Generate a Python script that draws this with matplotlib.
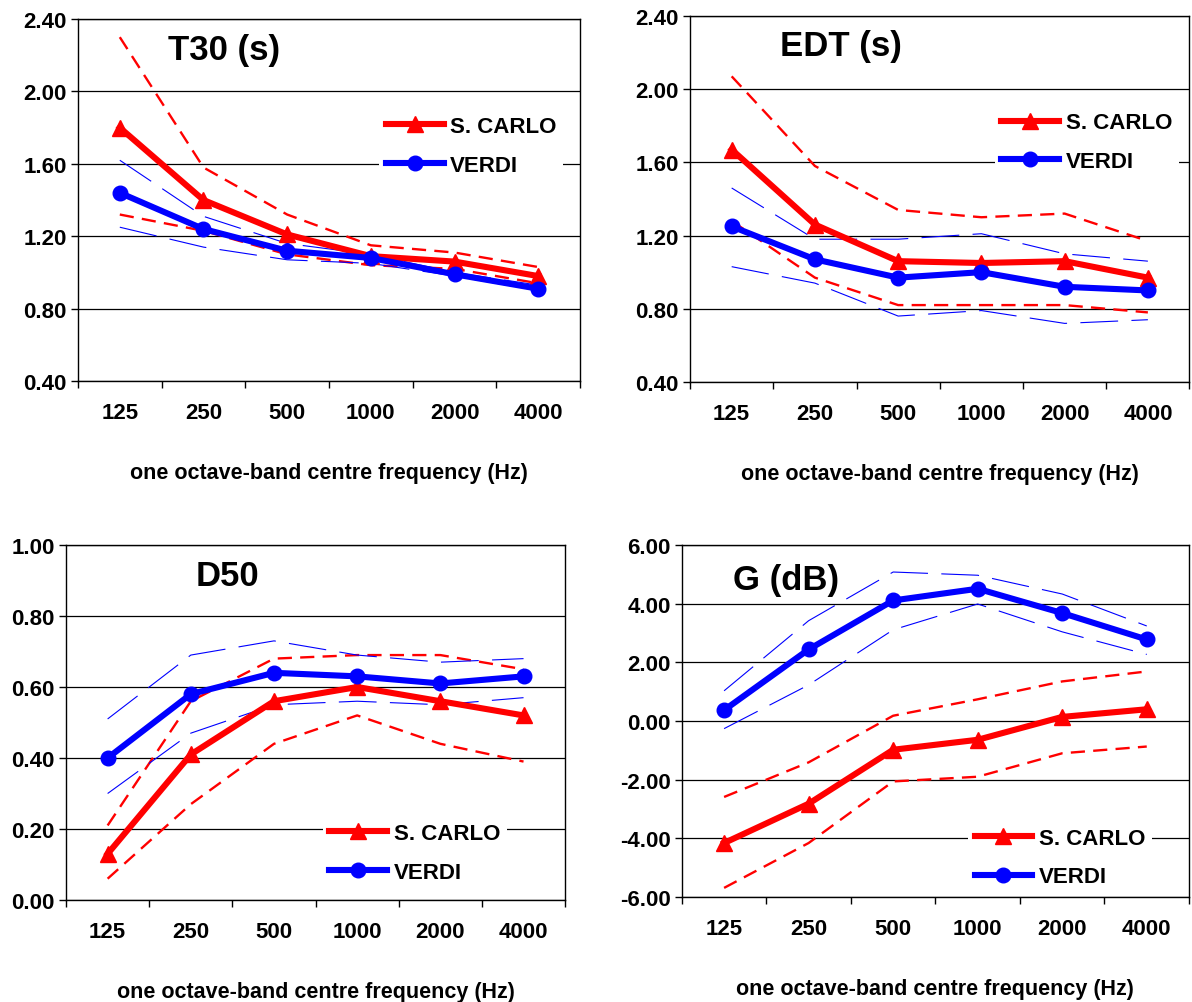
import matplotlib.pyplot as plt
import numpy as np

plt.rcParams['font.family'] = ['Liberation Sans', 'DejaVu Sans']
plt.rcParams['font.weight'] = 'bold'

freqs = ['125', '250', '500', '1000', '2000', '4000']

# T30 (s)
t30_carlo = [1.80, 1.40, 1.21, 1.09, 1.06, 0.98]
t30_carlo_hi = [2.30, 1.58, 1.32, 1.15, 1.11, 1.03]
t30_carlo_lo = [1.32, 1.23, 1.10, 1.04, 1.02, 0.94]
t30_verdi = [1.44, 1.24, 1.12, 1.08, 0.99, 0.91]
t30_verdi_hi = [1.62, 1.31, 1.16, 1.10, 1.00, 0.93]
t30_verdi_lo = [1.25, 1.14, 1.07, 1.05, 0.98, 0.90]

# EDT (s)
edt_carlo = [1.67, 1.26, 1.06, 1.05, 1.06, 0.97]
edt_carlo_hi = [2.07, 1.58, 1.34, 1.30, 1.32, 1.17]
edt_carlo_lo = [1.28, 0.97, 0.82, 0.82, 0.82, 0.78]
edt_verdi = [1.25, 1.07, 0.97, 1.00, 0.92, 0.90]
edt_verdi_hi = [1.46, 1.18, 1.18, 1.21, 1.10, 1.06]
edt_verdi_lo = [1.03, 0.94, 0.76, 0.79, 0.72, 0.74]

# D50
d50_carlo = [0.13, 0.41, 0.56, 0.60, 0.56, 0.52]
d50_carlo_hi = [0.21, 0.56, 0.68, 0.69, 0.69, 0.65]
d50_carlo_lo = [0.06, 0.27, 0.44, 0.52, 0.44, 0.39]
d50_verdi = [0.40, 0.58, 0.64, 0.63, 0.61, 0.63]
d50_verdi_hi = [0.51, 0.69, 0.73, 0.69, 0.67, 0.68]
d50_verdi_lo = [0.30, 0.47, 0.55, 0.56, 0.55, 0.57]

# G (dB)
g_carlo = [-4.16, -2.82, -0.98, -0.64, 0.14, 0.40]
g_carlo_hi = [-2.59, -1.41, 0.18, 0.74, 1.35, 1.69]
g_carlo_lo = [-5.69, -4.16, -2.06, -1.90, -1.10, -0.87]
g_verdi = [0.37, 2.44, 4.11, 4.51, 3.68, 2.78]
g_verdi_hi = [1.03, 3.42, 5.08, 4.97, 4.33, 3.24]
g_verdi_lo = [-0.26, 1.23, 3.11, 3.99, 3.04, 2.27]

RED = '#FF0000'
BLUE = '#0000FF'

fig = plt.figure(figsize=(11.92, 10.03), dpi=100)


def panel(rect, title, title_xy, carlo, carlo_hi, carlo_lo, verdi, verdi_hi, verdi_lo,
          yticks, leg_xy):
    ax = fig.add_axes(rect)
    x = np.arange(len(freqs))
    # spread lines (min / max)
    for yy in (carlo_hi, carlo_lo):
        ax.plot(x, yy, color=RED, lw=1.7, dashes=(6, 3.5), zorder=3)
    for yy in (verdi_hi, verdi_lo):
        ax.plot(x, yy, color=BLUE, lw=0.8, dashes=(34, 12), zorder=3)
    ax.plot(x, carlo, color=RED, lw=4.4, marker='^', ms=12, label='S. CARLO', zorder=4)
    ax.plot(x, verdi, color=BLUE, lw=4.4, marker='o', ms=10.5, label='VERDI', zorder=4)

    ax.set_xlim(-0.5, len(freqs) - 0.5)
    ax.set_ylim(yticks[0], yticks[-1])
    ax.set_yticks(yticks)
    ax.set_yticklabels(['%.2f' % v for v in yticks], fontsize=16, fontweight='bold')
    ax.set_xticks(x)
    ax.set_xticklabels(freqs, fontsize=16, fontweight='bold')
    ax.set_xticks(np.arange(len(freqs) + 1) - 0.5, minor=True)
    ax.tick_params(axis='x', which='major', length=0, pad=15)
    ax.tick_params(axis='x', which='minor', length=5, width=1, direction='out')
    ax.tick_params(axis='y', length=5, width=1, direction='out', pad=3)
    ax.grid(axis='y', color='black', lw=0.9, zorder=1)
    ax.set_axisbelow(True)
    for s in ('left', 'bottom', 'top', 'right'):
        ax.spines[s].set_linewidth(1.0)
    ax.set_xlabel('one octave-band centre frequency (Hz)', fontsize=15.5,
                  fontweight='bold', labelpad=28)
    ax.text(title_xy[0], title_xy[1], title, transform=ax.transAxes, fontsize=25,
            fontweight='bold', ha='left', va='center')
    leg = ax.legend(loc='upper left', bbox_to_anchor=leg_xy, frameon=True,
                    fancybox=False, handlelength=2.6, handletextpad=0.3,
                    borderpad=0.3, borderaxespad=0, labelspacing=0.8,
                    prop={'size': 16, 'weight': 'bold'})
    leg.get_frame().set_facecolor('white')
    leg.get_frame().set_edgecolor('none')
    leg.get_frame().set_alpha(1)
    leg.set_zorder(10)
    return ax


panel([0.0654, 0.6191, 0.4212, 0.3609], 'T30 (s)', (0.18, 0.917),
      t30_carlo, t30_carlo_hi, t30_carlo_lo, t30_verdi, t30_verdi_hi, t30_verdi_lo,
      [0.40, 0.80, 1.20, 1.60, 2.00, 2.40], (0.60, 0.75))

panel([0.5789, 0.6182, 0.4190, 0.3649], 'EDT (s)', (0.181, 0.918),
      edt_carlo, edt_carlo_hi, edt_carlo_lo, edt_verdi, edt_verdi_hi, edt_verdi_lo,
      [0.40, 0.80, 1.20, 1.60, 2.00, 2.40], (0.61, 0.755))

panel([0.0554, 0.1017, 0.4187, 0.3539], 'D50', (0.26, 0.913),
      d50_carlo, d50_carlo_hi, d50_carlo_lo, d50_verdi, d50_verdi_hi, d50_verdi_lo,
      [0.00, 0.20, 0.40, 0.60, 0.80, 1.00], (0.514, 0.235))

panel([0.5720, 0.1047, 0.4255, 0.3509], 'G (dB)', (0.10, 0.903),
      g_carlo, g_carlo_hi, g_carlo_lo, g_verdi, g_verdi_hi, g_verdi_lo,
      [-6.00, -4.00, -2.00, 0.00, 2.00, 4.00, 6.00], (0.564, 0.216))

fig.savefig('out.png', dpi=100)
